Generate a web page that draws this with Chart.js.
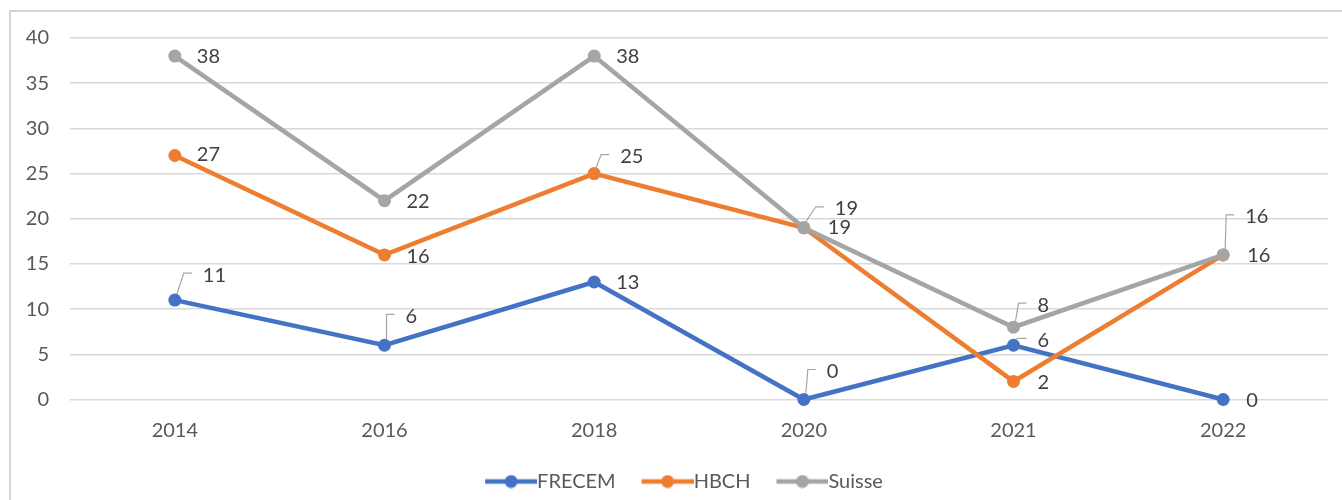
<!DOCTYPE html>
<html>
<head>
<meta charset="utf-8">
<script src="https://cdn.jsdelivr.net/npm/chart.js@4.4.1/dist/chart.umd.min.js"></script>
<style>
  html, body { margin: 0; padding: 0; background: #ffffff; overflow: hidden; }
  #frame { position: absolute; left: 9px; top: 10px; width: 1400px; height: 600px; border: 2px solid #d4d4d4; box-sizing: border-box; }
  #wrap { position: absolute; left: 0; top: 0; width: 1342px; height: 500px; }
</style>
</head>
<body>
<div id="frame"></div>
<div id="wrap"><canvas id="c" width="1342" height="500"></canvas></div>
<script>
// ---- data ----
const categories = ['2014', '2016', '2018', '2020', '2021', '2022'];
const frecem = [11, 6, 13, 0, 6, 0];
const hbch = [27, 16, 25, 19, 2, 16];
const suisse = [38, 22, 38, 19, 8, 16];
const seriesNames = ['FRECEM', 'HBCH', 'Suisse'];
const yTicks = [0, 5, 10, 15, 20, 25, 30, 35, 40];

// ---- styling / label placement (not data) ----
const colors = ['#4472C4', '#ED7D31', '#A5A5A5'];
// [dx, dy, leader] offsets from point centre to label left-middle
const labelPlacement = [
  [[28, -25, true], [21, -29, true], [22, 1, false], [23, -28, true], [24, -5, true], [23, 1, false]],
  [[22, -1, false], [22, 2, false], [26, -17, true], [31, -19, true], [24, 1, false], [24, 1, false]],
  [[22, 0, false], [22, 1, false], [22, 0, false], [24, 0, false], [24, -22, true], [22, -38, true]]
];
const FONT = 'Lato, "Open Sans", sans-serif';
const FS = 20;
const LEGEND_SHIFT = 24;

// legend symbol: a short line with a dot, drawn in the right part of a wider transparent image
function legendSymbol(color) {
  const c = document.createElement('canvas');
  c.width = 78; c.height = 14;
  const g = c.getContext('2d');
  g.strokeStyle = color; g.lineWidth = 4.5; g.lineCap = 'butt';
  g.beginPath(); g.moveTo(26, 7); g.lineTo(78, 7); g.stroke();
  g.fillStyle = color;
  g.beginPath(); g.arc(52, 7, 6.5, 0, Math.PI * 2); g.fill();
  return c;
}
const symbols = colors.map(legendSymbol);

const dataLabels = {
  id: 'dataLabels',
  afterDatasetsDraw(chart) {
    const ctx = chart.ctx;
    ctx.save();
    ctx.font = FS + 'px ' + FONT;
    ctx.fillStyle = '#404040';
    ctx.textAlign = 'left';
    ctx.textBaseline = 'middle';
    chart.data.datasets.forEach((ds, di) => {
      const meta = chart.getDatasetMeta(di);
      meta.data.forEach((pt, i) => {
        const [dx, dy, leader] = labelPlacement[di][i];
        const lx = pt.x + dx, ly = pt.y + dy;
        if (leader) {
          ctx.strokeStyle = '#a6a6a6';
          ctx.lineWidth = 1.2;
          ctx.beginPath();
          ctx.moveTo(pt.x + 2, pt.y - 6);
          ctx.lineTo(lx - 19, ly - 2);
          ctx.lineTo(lx - 11, ly - 2);
          ctx.stroke();
        }
        ctx.fillText(String(ds.data[i]), lx, ly);
      });
    });
    ctx.restore();
  }
};

// shifts the (centred) legend box slightly to the right, like the reference
const legendShift = {
  id: 'legendShift',
  afterLayout(chart) {
    if (chart.legend) { chart.legend.left += LEGEND_SHIFT; }
  }
};

const seriesData = [frecem, hbch, suisse];
const datasets = seriesNames.map((name, i) => ({
  label: name,
  data: seriesData[i],
  borderColor: colors[i],
  backgroundColor: colors[i],
  borderWidth: 4.5,
  pointRadius: 6.5,
  pointHoverRadius: 6.5,
  pointBorderWidth: 0,
  tension: 0,
  clip: false,
  order: 3 - i
}));

new Chart(document.getElementById('c'), {
  type: 'line',
  data: { labels: categories, datasets },
  plugins: [dataLabels, legendShift],
  options: {
    responsive: false,
    animation: false,
    layout: { padding: { top: 38, right: 14, left: 0, bottom: -1.5 } },
    plugins: {
      tooltip: { enabled: false },
      legend: {
        position: 'bottom',
        labels: {
          usePointStyle: true,
          pointStyleWidth: 58,
          padding: 10,
          color: '#595959',
          font: { family: FONT, size: FS },
          generateLabels(chart) {
            return chart.data.datasets.map((ds, i) => ({
              text: ds.label,
              pointStyle: symbols[i],
              fillStyle: colors[i],
              strokeStyle: colors[i],
              lineWidth: 0,
              hidden: false,
              datasetIndex: i,
              fontColor: '#595959'
            }));
          }
        }
      }
    },
    scales: {
      x: {
        offset: true,
        grid: { display: false, drawTicks: false },
        border: { display: false },
        ticks: { color: '#595959', font: { family: FONT, size: FS }, padding: 19 }
      },
      y: {
        min: 0, max: 40,
        afterBuildTicks(scale) { scale.ticks = yTicks.map(v => ({ value: v })); },
        afterFit(scale) { scale.width = 70; },
        grid: { color: '#d9d9d9', lineWidth: 1.5, drawTicks: false },
        border: { display: false },
        ticks: { color: '#595959', font: { family: FONT, size: FS }, padding: 21 }
      }
    }
  }
});
</script>
</body>
</html>
